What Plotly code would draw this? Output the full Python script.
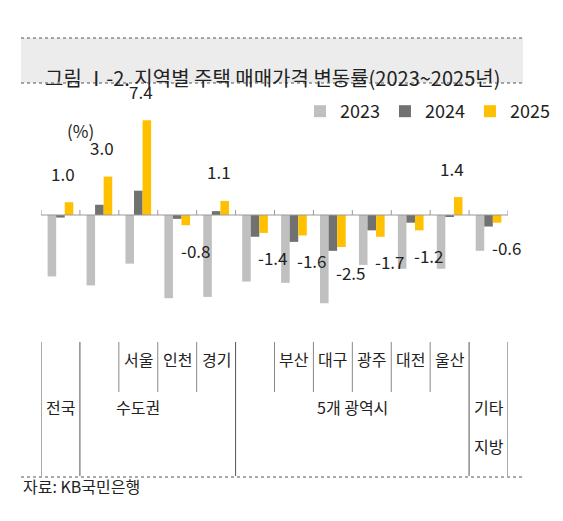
import plotly.graph_objects as go

regions = ["전국", "수도권", "서울", "인천", "경기", "5개 광역시", "부산", "대구", "광주", "대전", "울산", "기타지방"]
y2023 = [-4.8, -5.5, -3.8, -6.5, -6.4, -5.2, -5.3, -6.9, -3.9, -4.2, -4.2, -2.8]
y2024 = [-0.2, 0.8, 1.9, -0.3, 0.3, -1.7, -2.1, -2.8, -1.2, -0.6, -0.1, -0.9]
y2025 = [1.0, 3.0, 7.4, -0.8, 1.1, -1.4, -1.6, -2.5, -1.7, -1.2, 1.4, -0.6]
sub_labels = ["서울", "인천", "경기", "부산", "대구", "광주", "대전", "울산"]
sub_pos = [2, 3, 4, 6, 7, 8, 9, 10]

FONT = "Noto Sans CJK KR"
xs = list(range(len(regions)))
fig = go.Figure()
for name, vals, col in [("2023", y2023, "#c0c0c0"), ("2024", y2024, "#717171"), ("2025", y2025, "#ffc000")]:
    fig.add_bar(x=xs, y=vals, name=name, marker_color=col, marker_line_width=0)

W, H = 563, 521
L, R, T, B = 33, 500, 85, 330
PPU = 12.8
ytop = (207 - T) / PPU
ybot = -(B - 207) / PPU

def px(xp):
    return (xp - L) / (R - L)
def py(yp):
    return (B - yp) / (B - T)

shapes = []
shapes.append(dict(type="rect", xref="paper", yref="paper", x0=px(13), x1=px(515), y0=py(75), y1=py(30),
                   fillcolor="#ececec", line_width=0, layer="below"))
for yy in (30, 75, 469):
    shapes.append(dict(type="line", xref="paper", yref="paper", x0=px(13), x1=px(515), y0=py(yy), y1=py(yy),
                       line=dict(color="#555", width=1, dash="dot")))
shapes.append(dict(type="line", xref="x", yref="y", x0=-0.5, x1=11.5, y0=0, y1=0, line=dict(color="#999", width=1)))
for i in range(13):
    shapes.append(dict(type="line", xref="x", yref="y", x0=i - 0.5, x1=i - 0.5, y0=0, y1=5 / PPU,
                       line=dict(color="#999", width=1)))
for b in [-0.5, 0.5, 4.5, 10.5, 11.5]:
    shapes.append(dict(type="line", xref="x", yref="paper", x0=b, x1=b, y0=py(468), y1=py(334),
                       line=dict(color="#555", width=1)))
for b in [1.5, 2.5, 3.5, 5.5, 6.5, 7.5, 8.5, 9.5]:
    shapes.append(dict(type="line", xref="x", yref="paper", x0=b, x1=b, y0=py(384), y1=py(334),
                       line=dict(color="#888", width=1)))

ann = []
ann.append(dict(text="그림 Ⅰ-2. 지역별 주택 매매가격 변동률(2023~2025년)", xref="paper", yref="paper",
                x=px(264), y=py(53), showarrow=False, font=dict(size=20, color="#222", family=FONT)))
ann.append(dict(text="(%)", xref="paper", yref="paper", x=px(57), y=py(108), showarrow=False,
                font=dict(size=17, color="#222", family=FONT)))
off = 0.22
for i, v in enumerate(y2025):
    if v >= 0:
        ann.append(dict(text=f"{v:.1f}", x=i + off - 0.15, y=v, yshift=29, showarrow=False,
                        font=dict(size=17, color="#222", family=FONT)))
    else:
        ann.append(dict(text=f"{v:.1f}", x=i + off + 0.25, y=v, yshift=-25, showarrow=False,
                        font=dict(size=17, color="#222", family=FONT)))
for s, p in zip(sub_labels, sub_pos):
    ann.append(dict(text=s, x=p, xref="x", yref="paper", y=py(365), showarrow=False,
                    font=dict(size=16, color="#222", family=FONT)))
for s, p in [("전국", 0), ("수도권", 2), ("5개 광역시", 7.5)]:
    ann.append(dict(text=s, x=p, xref="x", yref="paper", y=py(413), showarrow=False,
                    font=dict(size=16, color="#222", family=FONT)))
ann.append(dict(text="기타", x=11, xref="x", yref="paper", y=py(413), showarrow=False,
                font=dict(size=16, color="#222", family=FONT)))
ann.append(dict(text="지방", x=11, xref="x", yref="paper", y=py(452), showarrow=False,
                font=dict(size=16, color="#222", family=FONT)))
ann.append(dict(text="자료: KB국민은행", xref="paper", yref="paper", x=px(13), y=py(492), xanchor="left",
                showarrow=False, font=dict(size=16, color="#222", family=FONT)))

fig.update_layout(
    width=W, height=H, margin=dict(l=L, r=W - R, t=T, b=H - B),
    paper_bgcolor="white", plot_bgcolor="white",
    barmode="group", bargap=0.34, bargroupgap=0,
    xaxis=dict(range=[-0.5, 11.5], visible=False),
    yaxis=dict(range=[ybot, ytop], visible=False),
    showlegend=True,
    legend=dict(orientation="h", x=px(292), y=py(85), xanchor="left", yanchor="top",
                font=dict(size=18, color="#222", family=FONT), itemwidth=30, tracegroupgap=0,
                bgcolor="rgba(0,0,0,0)"),
    shapes=shapes, annotations=ann,
    font=dict(family=FONT),
)
fig.write_html("out.html")
